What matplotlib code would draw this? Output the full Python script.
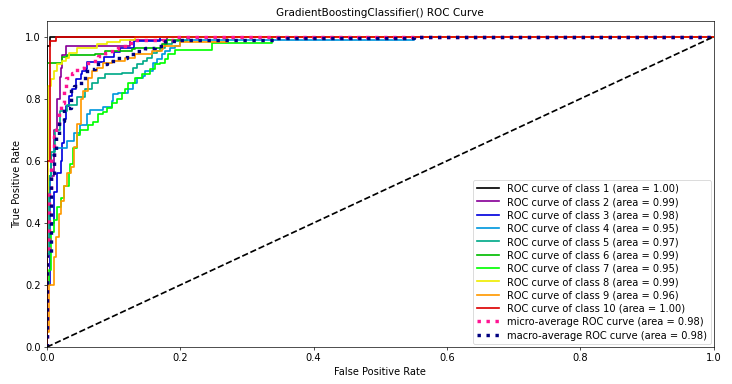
import matplotlib
matplotlib.use('Agg')
import matplotlib.pyplot as plt

# corner points (fpr, tpr), drawn as post-steps
fpr_1 = [0, 0, 0.005, 1]
tpr_1 = [0, 0.97, 1, 1]

fpr_2 = [0, 0, 0.005, 0.01, 0.015, 0.02, 0.021, 0.0225, 0.028, 0.125, 0.18, 1]
tpr_2 = [0, 0.35, 0.55, 0.7, 0.8, 0.87, 0.9, 0.94, 0.971, 0.99, 1, 1]

fpr_3 = [0, 0, 0.005, 0.01, 0.015, 0.021, 0.0225, 0.025, 0.028, 0.033, 0.037,
         0.043, 0.051, 0.052, 0.058, 0.06, 0.085, 0.1, 0.11, 0.13, 0.17, 1]
tpr_3 = [0, 0.2, 0.4, 0.5, 0.56, 0.6, 0.658, 0.735, 0.777, 0.81, 0.832,
         0.865, 0.88, 0.89, 0.897, 0.92, 0.935, 0.95, 0.965, 0.985, 1, 1]

fpr_4 = [0, 0, 0.004, 0.006, 0.01, 0.03, 0.04, 0.05, 0.06, 0.064, 0.084, 0.097,
         0.099, 0.106, 0.121, 0.129, 0.135, 0.144, 0.147, 0.159, 0.165, 0.172,
         0.177, 0.184, 0.192, 0.2, 0.55, 1]
tpr_4 = [0, 0.3, 0.55, 0.62, 0.64, 0.665, 0.69, 0.715, 0.75, 0.765, 0.775, 0.794,
         0.816, 0.82, 0.832, 0.85, 0.868, 0.874, 0.89, 0.916, 0.929, 0.945,
         0.955, 0.965, 0.97, 0.99, 1, 1]

fpr_5 = [0, 0, 0.003, 0.006, 0.012, 0.02, 0.03, 0.045, 0.057, 0.067, 0.076, 0.087,
         0.112, 0.129, 0.135, 0.144, 0.15, 0.157, 0.165, 0.169, 0.177, 0.187, 0.21, 1]
tpr_5 = [0, 0.3, 0.55, 0.63, 0.7, 0.76, 0.78, 0.806, 0.832, 0.85, 0.868, 0.88,
         0.884, 0.9, 0.913, 0.922, 0.932, 0.948, 0.955, 0.964, 0.977, 0.985, 1, 1]

fpr_6 = [0, 0, 0.022, 0.03, 0.072, 0.087, 0.127, 0.132, 0.172, 0.18, 0.2, 1]
tpr_6 = [0, 0.916, 0.935, 0.94, 0.945, 0.955, 0.961, 0.965, 0.977, 0.99, 1, 1]

fpr_7 = [0, 0, 0.003, 0.006, 0.01, 0.015, 0.021, 0.025, 0.033, 0.034, 0.039, 0.045,
         0.049, 0.061, 0.069, 0.076, 0.084, 0.09, 0.097, 0.105, 0.112, 0.117,
         0.121, 0.132, 0.142, 0.154, 0.162, 0.169, 0.177, 0.181, 0.192, 0.247,
         0.338, 1]
tpr_7 = [0, 0.2, 0.25, 0.37, 0.41, 0.45, 0.48, 0.52, 0.56, 0.59, 0.64, 0.685,
         0.7, 0.716, 0.726, 0.75, 0.758, 0.77, 0.787, 0.8, 0.82, 0.832,
         0.85, 0.868, 0.88, 0.897, 0.913, 0.916, 0.929, 0.945, 0.958, 0.98,
         1, 1]

fpr_8 = [0, 0, 0.002, 0.006, 0.011, 0.015, 0.022, 0.028, 0.033, 0.045, 0.075,
         0.09, 0.11, 0.132, 1]
tpr_8 = [0, 0.5, 0.84, 0.865, 0.89, 0.913, 0.922, 0.932, 0.948, 0.965, 0.975,
         0.984, 0.99, 1, 1]

fpr_9 = [0, 0, 0.003, 0.01, 0.013, 0.018, 0.021, 0.025, 0.03, 0.036, 0.04, 0.045,
         0.051, 0.054, 0.061, 0.067, 0.075, 0.084, 0.097, 0.117, 0.132, 0.157,
         0.172, 0.174, 0.2, 0.27, 1]
tpr_9 = [0, 0.05, 0.2, 0.29, 0.355, 0.43, 0.47, 0.52, 0.56, 0.58, 0.645, 0.72,
         0.8, 0.826, 0.868, 0.89, 0.9, 0.916, 0.922, 0.932, 0.945, 0.955,
         0.961, 0.971, 0.984, 1, 1]

fpr_10 = [0, 0, 0.004, 0.013, 1]
tpr_10 = [0, 0.6, 0.985, 1, 1]

fpr_micro = [0, 0, 0.003, 0.006, 0.011, 0.0135, 0.018, 0.021, 0.025, 0.028, 0.037,
             0.045, 0.055, 0.065, 0.076, 0.087, 0.097, 0.106, 0.12, 0.132, 0.19, 1]
tpr_micro = [0, 0.3, 0.5, 0.606, 0.68, 0.72, 0.755, 0.787, 0.826, 0.868, 0.884,
             0.9, 0.916, 0.922, 0.939, 0.948, 0.961, 0.971, 0.98, 0.99, 1, 1]

fpr_macro = [0, 0, 0.006, 0.01, 0.0135, 0.018, 0.025, 0.036, 0.04, 0.051, 0.06,
             0.072, 0.09, 0.105, 0.12, 0.132, 0.147, 0.162, 0.177, 0.2, 0.34, 0.55, 1]
tpr_macro = [0, 0.3, 0.55, 0.626, 0.68, 0.729, 0.771, 0.832, 0.842, 0.868, 0.897,
             0.913, 0.922, 0.932, 0.945, 0.955, 0.965, 0.971, 0.987, 0.99, 0.997, 1, 1]

class_fprs = [fpr_1, fpr_2, fpr_3, fpr_4, fpr_5, fpr_6, fpr_7, fpr_8, fpr_9, fpr_10]
class_tprs = [tpr_1, tpr_2, tpr_3, tpr_4, tpr_5, tpr_6, tpr_7, tpr_8, tpr_9, tpr_10]
class_names = ['1', '2', '3', '4', '5', '6', '7', '8', '9', '10']
class_aucs = [1.00, 0.99, 0.98, 0.95, 0.97, 0.99, 0.95, 0.99, 0.96, 1.00]
micro_auc = 0.98
macro_auc = 0.98

fig, ax = plt.subplots(figsize=(12, 6.3), dpi=61)
fig.subplots_adjust(left=0.064, right=0.975, bottom=0.096, top=0.944)

cmap = plt.get_cmap('nipy_spectral')
for i, name in enumerate(class_names):
    ax.step(class_fprs[i], class_tprs[i], where='post', lw=2,
            color=cmap(float(i) / len(class_names)),
            label='ROC curve of class {0} (area = {1:0.2f})'.format(name, class_aucs[i]))

ax.step(fpr_micro, tpr_micro, where='post', color='deeppink', linestyle=':', linewidth=4,
        label='micro-average ROC curve (area = {0:0.2f})'.format(micro_auc))
ax.step(fpr_macro, tpr_macro, where='post', color='navy', linestyle=':', linewidth=4,
        label='macro-average ROC curve (area = {0:0.2f})'.format(macro_auc))

ax.plot([0, 1], [0, 1], 'k--', lw=2)
ax.set_xlim([0.0, 1.0])
ax.set_ylim([0.0, 1.05])
ax.set_title('GradientBoostingClassifier() ROC Curve', fontsize=12.3)
ax.set_xlabel('False Positive Rate', fontsize=11.6)
ax.set_ylabel('True Positive Rate', fontsize=11.6)
ax.tick_params(labelsize=11.6)
ax.legend(loc='lower right', fontsize=11.6, handlelength=2.2, labelspacing=0.34,
          borderaxespad=0.3)

fig.savefig('out.png', dpi=61)
